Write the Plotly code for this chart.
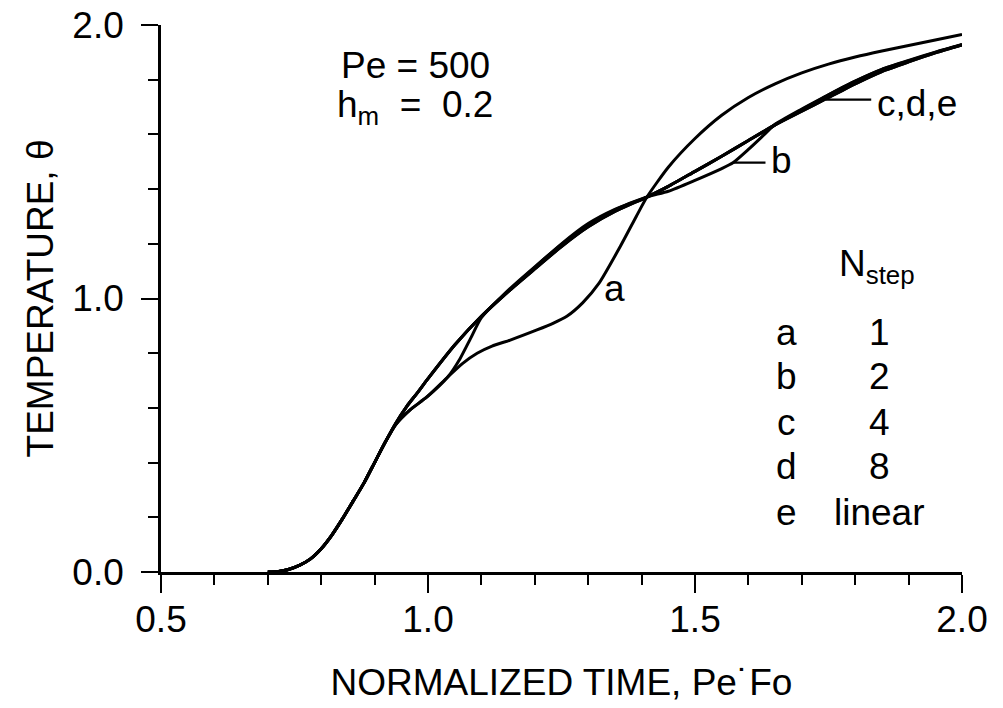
import plotly.graph_objects as go

# ---- data ----
x_e = [0.70, 0.72, 0.74, 0.76, 0.78, 0.80, 0.82, 0.84, 0.86, 0.88, 0.90, 0.92, 0.94, 0.96, 0.98,
       1.00, 1.05, 1.10, 1.15, 1.20, 1.25, 1.30, 1.35, 1.41, 1.45, 1.50, 1.55, 1.60, 1.65, 1.70,
       1.75, 1.80, 1.85, 1.90, 1.95, 2.00]
y_e = [0.0, 0.002, 0.01, 0.025, 0.048, 0.085, 0.135, 0.195, 0.26, 0.325, 0.40, 0.475, 0.545, 0.605, 0.655,
       0.707, 0.83, 0.935, 1.025, 1.108, 1.19, 1.262, 1.318, 1.371, 1.41, 1.465, 1.52, 1.578, 1.635, 1.685,
       1.735, 1.785, 1.83, 1.865, 1.898, 1.927]
y_c = [0.0, 0.002, 0.01, 0.025, 0.048, 0.085, 0.135, 0.195, 0.26, 0.325, 0.40, 0.475, 0.545, 0.605, 0.655,
       0.707, 0.83, 0.935, 1.025, 1.114, 1.2, 1.274, 1.326, 1.371, 1.41, 1.465, 1.52, 1.578, 1.635, 1.69,
       1.745, 1.795, 1.838, 1.869, 1.9, 1.928]
y_d = [0.0, 0.002, 0.01, 0.025, 0.048, 0.085, 0.135, 0.195, 0.26, 0.325, 0.40, 0.475, 0.545, 0.605, 0.655,
       0.707, 0.83, 0.935, 1.025, 1.108, 1.19, 1.262, 1.318, 1.371, 1.41, 1.465, 1.52, 1.578, 1.635, 1.685,
       1.735, 1.785, 1.83, 1.865, 1.898, 1.927]

x_a = [0.70, 0.72, 0.74, 0.76, 0.78, 0.80, 0.82, 0.84, 0.86, 0.88, 0.90, 0.92, 0.94, 0.966, 0.998,
       1.037, 1.065, 1.092, 1.12, 1.154, 1.204, 1.235, 1.26, 1.29, 1.32, 1.36, 1.39, 1.41, 1.45, 1.50,
       1.55, 1.60, 1.65, 1.70, 1.75, 1.80, 1.85, 1.90, 1.95, 2.00]
y_a = [0.0, 0.002, 0.01, 0.025, 0.048, 0.085, 0.135, 0.195, 0.26, 0.325, 0.40, 0.475, 0.54, 0.592, 0.64,
       0.713, 0.763, 0.80, 0.826, 0.848, 0.885, 0.91, 0.935, 0.985, 1.055, 1.19, 1.30, 1.371, 1.48, 1.585,
       1.67, 1.735, 1.785, 1.825, 1.857, 1.883, 1.905, 1.925, 1.945, 1.965]

x_b = [0.70, 0.72, 0.74, 0.76, 0.78, 0.80, 0.82, 0.84, 0.86, 0.88, 0.90, 0.92, 0.94, 0.966, 0.998,
       1.037, 1.06, 1.08, 1.10, 1.15, 1.20, 1.25, 1.30, 1.35, 1.41, 1.45, 1.50, 1.55, 1.571, 1.60,
       1.63, 1.65, 1.70, 1.75, 1.80, 1.85, 1.90, 1.95, 2.00]
y_b = [0.0, 0.002, 0.01, 0.025, 0.048, 0.085, 0.135, 0.195, 0.26, 0.325, 0.40, 0.475, 0.54, 0.592, 0.64,
       0.713, 0.78, 0.855, 0.93, 1.03, 1.116, 1.198, 1.27, 1.324, 1.371, 1.392, 1.432, 1.475, 1.496, 1.545,
       1.60, 1.637, 1.693, 1.745, 1.795, 1.838, 1.870, 1.901, 1.929]

legend_letters = ["a", "b", "c", "d", "e"]
legend_nstep = ["1", "2", "4", "8", "linear"]
x_ticks = [0.5, 1.0, 1.5, 2.0]
x_ticktext = ["0.5", "1.0", "1.5", "2.0"]
y_ticks = [0.0, 1.0, 2.0]
y_ticktext = ["0.0", "1.0", "2.0"]

FONT = "Liberation Sans, Arial, sans-serif"
FS = 37
LW = 3

fig = go.Figure()
for name, xs, ys in [("a", x_a, y_a), ("b", x_b, y_b), ("c", x_e, y_c), ("d", x_e, y_d), ("e", x_e, y_e)]:
    fig.add_trace(go.Scatter(x=xs, y=ys, mode="lines", name=name,
                             line=dict(color="black", width=LW, shape="spline", smoothing=0.6),
                             showlegend=False, hoverinfo="skip"))

def txt(x, y, t, xanchor="center", size=FS):
    return dict(x=x, y=y, xref="x", yref="y", text=t, showarrow=False,
                font=dict(size=size, family=FONT, color="black"), xanchor=xanchor, yanchor="middle")

annotations = [
    txt(0.976, 1.853, "Pe = 500"),
    txt(0.826, 1.70, "h<sub>m</sub>&nbsp;&nbsp;=&nbsp;&nbsp;0.2", "left"),
    txt(1.35, 1.038, "a"),
    txt(1.638, 1.503, "b", "left"),
    txt(1.838, 1.713, "c,d,e", "left"),
    txt(1.84, 1.12, "N<sub>step</sub>"),
]
row_y = [0.877, 0.713, 0.548, 0.384, 0.219]
for yy, l, n in zip(row_y, legend_letters, legend_nstep):
    annotations.append(txt(1.672, yy, l))
    annotations.append(txt(1.846, yy, n))

shapes = [
    dict(type="line", xref="x", yref="y", x0=1.571, y0=1.497, x1=1.632, y1=1.497,
         line=dict(color="black", width=2.2)),
    dict(type="line", xref="x", yref="y", x0=1.745, y0=1.727, x1=1.83, y1=1.727,
         line=dict(color="black", width=2.2)),
]

# the page body adds an 8 px offset; margins below compensate for it
fig.update_layout(
    width=1003, height=708,
    paper_bgcolor="white", plot_bgcolor="white",
    margin=dict(l=153, r=49, t=17, b=144),
    annotations=annotations, shapes=shapes,
    font=dict(family=FONT, color="black", size=FS),
)
fig.update_xaxes(
    range=[0.5, 2.0], tickvals=x_ticks, ticktext=x_ticktext, automargin=False,
    ticks="outside", ticklen=18, tickwidth=2.2, tickcolor="black",
    ticklabelstandoff=-5, ticklabeloverflow="allow",
    minor=dict(dtick=0.1, tick0=0.5, ticks="outside", ticklen=10, tickwidth=2, tickcolor="black"),
    showline=True, linecolor="black", linewidth=2.6, showgrid=False, zeroline=False,
    tickfont=dict(size=FS, family=FONT, color="black"),
    title=dict(text="NORMALIZED TIME, Pe˙Fo", font=dict(size=FS, family=FONT, color="black"), standoff=30),
)
fig.update_yaxes(
    range=[0.0, 2.0], tickvals=y_ticks, ticktext=y_ticktext, automargin=False,
    ticks="outside", ticklen=17, tickwidth=2.2, tickcolor="black",
    ticklabelstandoff=10, ticklabeloverflow="allow",
    minor=dict(dtick=0.2, tick0=0.0, ticks="outside", ticklen=10, tickwidth=2, tickcolor="black"),
    showline=True, linecolor="black", linewidth=2.6, showgrid=False, zeroline=False,
    tickfont=dict(size=FS, family=FONT, color="black"),
    title=dict(text="TEMPERATURE, θ", font=dict(size=FS, family=FONT, color="black"), standoff=8),
)

fig.write_html("out.html")
